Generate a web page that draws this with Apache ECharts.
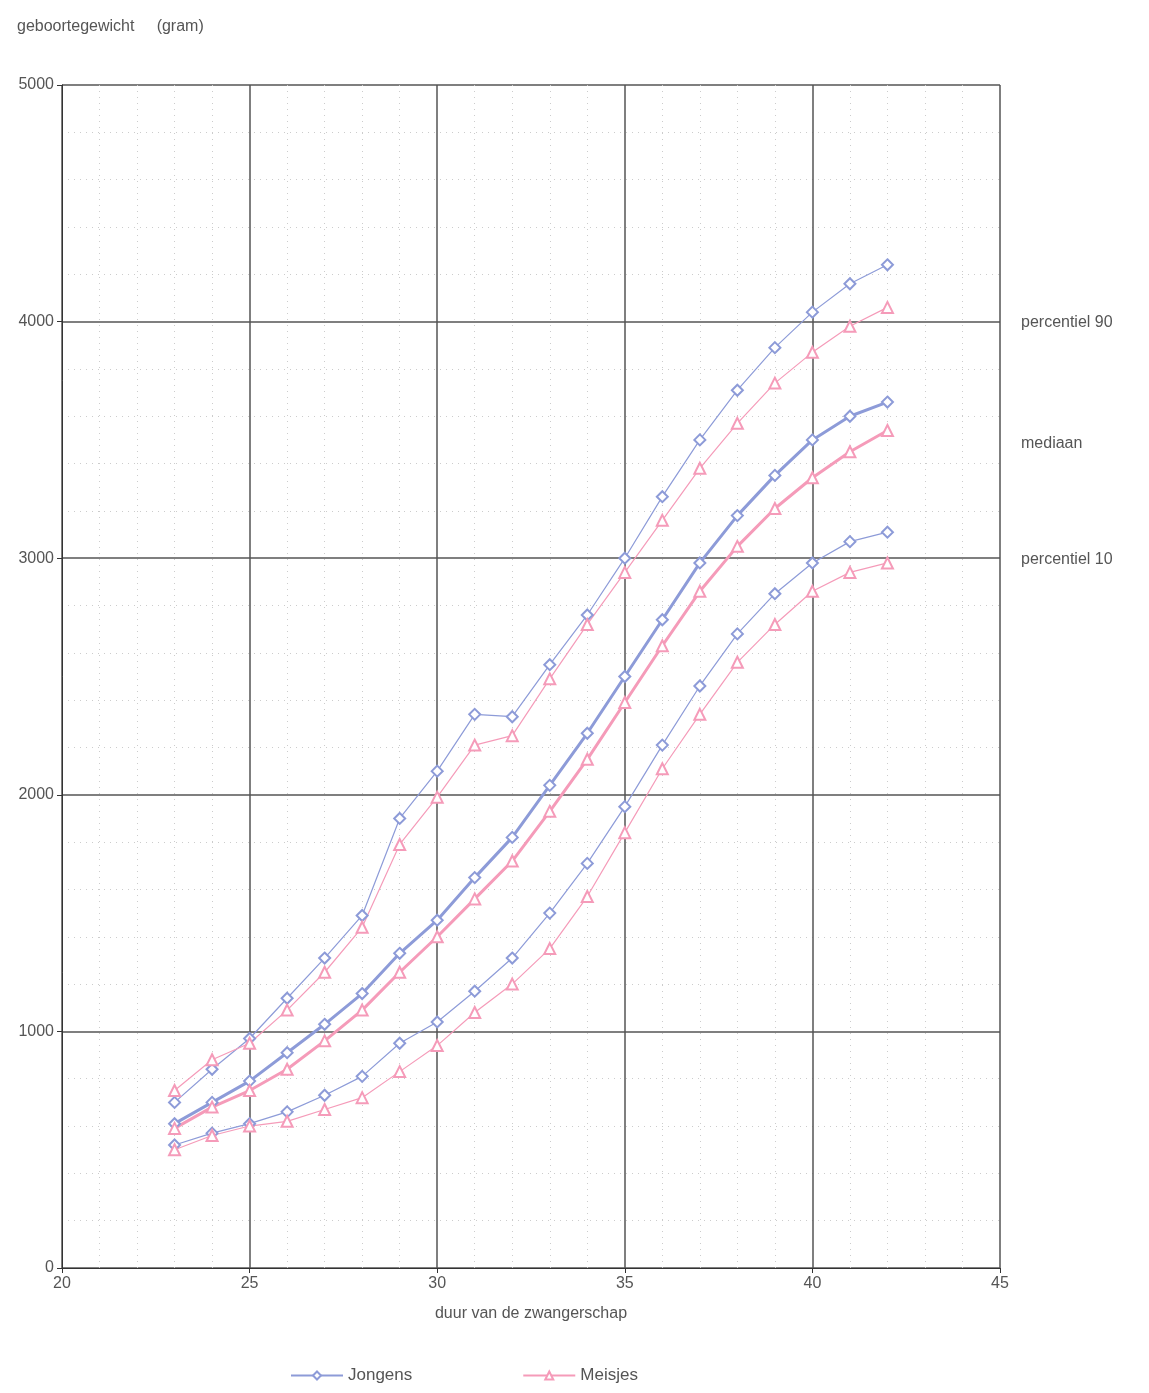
<!DOCTYPE html>
<html><head><meta charset="utf-8">
<script src="https://cdn.jsdelivr.net/npm/echarts@6/dist/echarts.min.js"></script>
<style>html,body{margin:0;background:#fff}#c{width:1149px;height:1393px}</style>
</head><body><div id="c"></div>
<script>
const weeks=[23,24,25,26,27,28,29,30,31,32,33,34,35,36,37,38,39,40,41,42];
const boysP90=[700,840,970,1140,1310,1490,1900,2100,2340,2330,2550,2760,3000,3260,3500,3710,3890,4040,4160,4240];
const girlsP90=[750,880,950,1090,1250,1440,1790,1990,2210,2250,2490,2720,2940,3160,3380,3570,3740,3870,3980,4060];
const boysMed=[610,700,790,910,1030,1160,1330,1470,1650,1820,2040,2260,2500,2740,2980,3180,3350,3500,3600,3660];
const girlsMed=[590,680,750,840,960,1090,1250,1400,1560,1720,1930,2150,2390,2630,2860,3050,3210,3340,3450,3540];
const boysP10=[520,570,610,660,730,810,950,1040,1170,1310,1500,1710,1950,2210,2460,2680,2850,2980,3070,3110];
const girlsP10=[500,560,600,620,670,720,830,940,1080,1200,1350,1570,1840,2110,2340,2560,2720,2860,2940,2980];
const rightLabels=[['percentiel 90',3990],['mediaan',3480],['percentiel 10',2990]];
const blue='#8d9bd8', pink='#f59bb9';
const pair=(arr)=>weeks.map((w,i)=>[w,arr[i]]);
function s(name,data,color,sym,w){return {name,type:'line',data:pair(data),symbol:sym,symbolSize:11,
 itemStyle:{color,borderWidth:1.3},lineStyle:{color,width:w},emphasis:{disabled:true}};}
const chart=echarts.init(document.getElementById('c'));
const tf={fontFamily:'Liberation Sans, Arial',color:'#555',fontSize:16};
chart.setOption({
 animation:false,
 grid:{left:62,right:149,top:85,bottom:125},
 title:{text:'geboortegewicht     (gram)',left:12,top:14,textStyle:{...tf,fontWeight:'normal'}},
 legend:{bottom:4,left:285,itemGap:110,itemWidth:52,itemHeight:10,textStyle:{...tf,fontSize:17},
   data:[{name:'Jongens'},{name:'Meisjes'}]},
 xAxis:{type:'value',min:20,max:45,interval:5,name:'duur van de zwangerschap',nameLocation:'middle',nameGap:38,
   nameTextStyle:{...tf},axisLabel:{...tf,formatter:v=>String(v)},axisLine:{lineStyle:{color:'#333'}},axisTick:{length:5},
   splitLine:{lineStyle:{color:'#555',width:1.5}},
   minorTick:{show:false,splitNumber:5},minorSplitLine:{show:true,lineStyle:{color:'#ccc',type:[1,5]}}},
 yAxis:{type:'value',min:0,max:5000,interval:1000,axisLabel:{...tf,formatter:v=>String(v)},axisLine:{show:true,lineStyle:{color:'#333'}},
   axisTick:{show:true,length:5},splitLine:{lineStyle:{color:'#555',width:1.5}},
   minorTick:{show:false,splitNumber:5},minorSplitLine:{show:true,lineStyle:{color:'#ccc',type:[1,5]}}},
 series:[s('Jongens',boysP90,blue,'emptyDiamond',1.2),s('Meisjes',girlsP90,pink,'emptyTriangle',1.2),
   s('Jongens',boysMed,blue,'emptyDiamond',3),s('Meisjes',girlsMed,pink,'emptyTriangle',3),
   s('Jongens',boysP10,blue,'emptyDiamond',1.2),s('Meisjes',girlsP10,pink,'emptyTriangle',1.2)]
});
chart.setOption({graphic:rightLabels.map(([t,v])=>{const p=chart.convertToPixel({gridIndex:0},[45,v]);
 return {type:'text',left:1021,top:p[1]-9,style:{text:t,font:'16px Liberation Sans, Arial',fill:'#555'}};})});
</script></body></html>
